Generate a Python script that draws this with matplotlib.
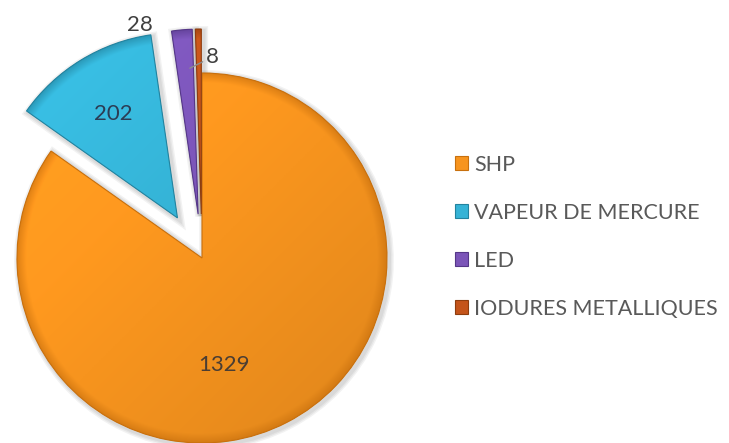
import matplotlib.pyplot as plt
import matplotlib.patches as mpatches
import matplotlib.colors as mcolors
import numpy as np

# lamp counts by technology
categories = ['SHP', 'VAPEUR DE MERCURE', 'LED', 'IODURES METALLIQUES']
counts = [1329, 202, 28, 8]

colors = ['#F7941E', '#35B3D6', '#7B55B8', '#C4541A']
edge_colors = ['#C8700E', '#23839F', '#553788', '#8E3D0E']
explode = [0, 47, 44, 44]   # pixels pushed out from the centre

plt.rcParams['font.family'] = ['Lato', 'DejaVu Sans']

fig = plt.figure(figsize=(7.29, 4.43), dpi=100)
ax = fig.add_axes([0, 0, 1, 1])

R = 185
cx, cy = 202, 185

wedges, _ = ax.pie(counts, colors=colors, startangle=90, counterclock=False,
                   explode=explode, radius=R, center=(cx, cy),
                   wedgeprops=dict(linewidth=0), frame=True)
ax.axis('off')
ax.set_xlim(0, 729)
ax.set_ylim(0, 443)
ax.set_aspect('equal')


def shade(wedge, base, edge):
    # soft drop shadow, lighter top-left / darker bottom-right, darker rim
    x0, y0 = wedge.center
    for k, lw in enumerate([7, 5, 3]):
        sh = mpatches.Wedge((x0 + 2, y0 - 2), R, wedge.theta1, wedge.theta2,
                            facecolor='none', edgecolor='black', lw=lw,
                            alpha=0.05, zorder=0.5)
        ax.add_patch(sh)
    n = 300
    xs = np.linspace(x0 - R, x0 + R, n)
    ys = np.linspace(y0 - R, y0 + R, n)
    X, Y = np.meshgrid(xs, ys)
    t = ((X - x0) - (Y - y0)) / (2 * R)          # -0.7 .. 0.7
    rim = np.clip((np.hypot(X - x0, Y - y0) / R - 0.95) / 0.05, 0, 1)
    rgb = np.array(mcolors.to_rgb(base))
    dk = np.array(mcolors.to_rgb(edge))
    img = rgb[None, None, :] * (1 - 0.10 * t[..., None])
    img = img * (1 - 0.6 * rim[..., None]) + dk * 0.6 * rim[..., None]
    img = np.clip(img, 0, 1)
    im = ax.imshow(img, extent=(x0 - R, x0 + R, y0 - R, y0 + R), origin='lower',
                   interpolation='bilinear', zorder=2)
    im.set_clip_path(wedge)
    ax.add_patch(mpatches.Wedge((x0, y0), R, wedge.theta1, wedge.theta2,
                                fill=False, edgecolor=edge, lw=0.8, zorder=3))


for w, fc, ec in zip(wedges, colors, edge_colors):
    shade(w, fc, ec)
ax.set_xlim(0, 729)
ax.set_ylim(0, 443)

# value labels: (radius fraction, angle shift in deg) from each wedge centre
label_pos = [(0.59, -16), (0.66, 0), (1.07, 12), (None, None)]
label_color = ['#4A3D33', '#2B3D55', '#404040', '#404040']
for w, v, (f, da), tc in zip(wedges, counts, label_pos, label_color):
    if f is None:
        continue
    mid = np.radians((w.theta1 + w.theta2) / 2 + da)
    x0, y0 = w.center
    ax.text(x0 + f * R * np.cos(mid), y0 + f * R * np.sin(mid), str(v),
            ha='center', va='center', fontsize=16, color=tc, zorder=5)

# the thinnest slice gets a leader line
w = wedges[3]
mid = np.radians((w.theta1 + w.theta2) / 2)
x0, y0 = w.center
tip = (x0 + 0.81 * R * np.cos(mid) - 9, y0 + 0.81 * R * np.sin(mid) - 4)
ax.annotate(str(counts[3]), xy=tip, xytext=(tip[0] + 22, tip[1] + 11),
            ha='center', va='center', fontsize=16, color='#404040', zorder=5,
            arrowprops=dict(arrowstyle='-', color='#8C8C8C', lw=1,
                            shrinkA=0, shrinkB=0))

handles = [mpatches.Patch(facecolor=fc, edgecolor=ec, lw=0.8)
           for fc, ec in zip(colors, edge_colors)]
leg = ax.legend(handles, categories, loc='upper left',
                bbox_to_anchor=(446 / 729, 1 - 146 / 443),
                frameon=False, fontsize=15.5, labelcolor='#595959',
                handlelength=0.6, handleheight=0.6, handletextpad=0.3,
                labelspacing=1.3, borderaxespad=0)

fig.savefig('out.png', dpi=100)
